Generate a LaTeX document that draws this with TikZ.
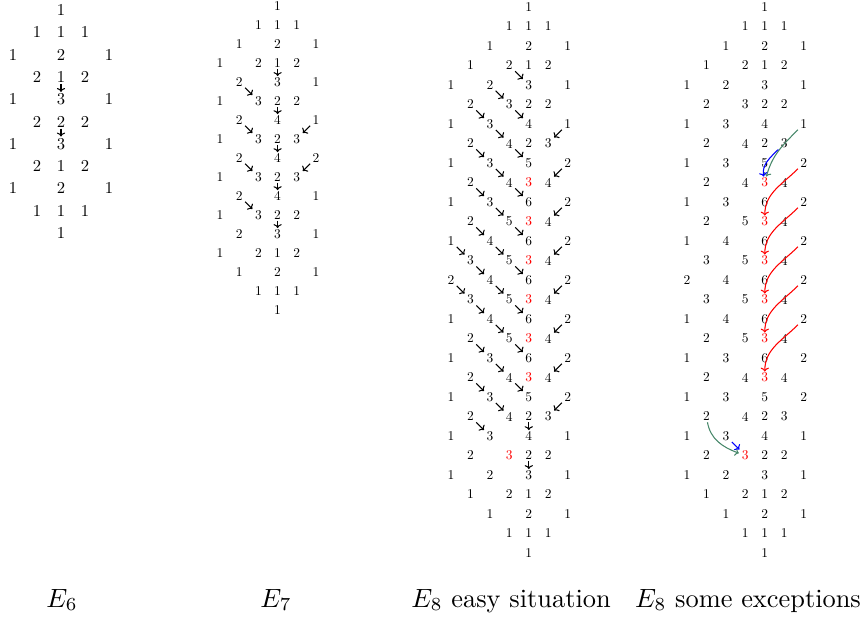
\documentclass[tikz,border=0pt]{standalone}
\usepackage{fontspec}
\usepackage{tikz}
\usetikzlibrary{arrows.meta}
\newfontfamily\digitfont{lmroman10-regular.otf}
\definecolor{exgreen}{RGB}{70,135,105}

\begin{document}
\begin{tikzpicture}[x=0.013326cm, y=-0.013326cm,
  num/.style={inner xsep=1pt, inner ysep=0.3pt, font=\digitfont\fontsize{5.1}{6}\selectfont},
  bignum/.style={inner xsep=1.2pt, inner ysep=0.4pt, font=\digitfont\fontsize{6.3}{7}\selectfont},
  hot/.style={text=red},
  lbl/.style={anchor=base, font=\normalsize},
  arr/.style={-{To[scale=0.6]}, line width=0.4pt}
]
\useasboundingbox (0,0) rectangle (863,621);

% E6
\foreach \r/\row in {0/{2/1}, 1/{1/1,2/1,3/1}, 2/{0/1,2/2,4/1}, 3/{1/2,2/1,3/2},
    4/{0/1,2/3,4/1}, 5/{1/2,2/2,3/2}, 6/{0/1,2/3,4/1}, 7/{1/2,2/1,3/2},
    8/{0/1,2/2,4/1}, 9/{1/1,2/1,3/1}, 10/{2/1}}
  \foreach \c/\v in \row
    \node[bignum] (e6-\r-\c) at (13+24*\c, 10+22.3*\r) {\v};
\draw[arr] (e6-3-2) -- (e6-4-2);
\draw[arr] (e6-5-2) -- (e6-6-2);

% E7
\foreach \r/\row in {0/{3/1}, 1/{2/1,3/1,4/1}, 2/{1/1,3/2,5/1}, 3/{0/1,2/2,3/1,4/2},
    4/{1/2,3/3,5/1}, 5/{0/1,2/3,3/2,4/2}, 6/{1/2,3/4,5/1}, 7/{0/1,2/3,3/2,4/3},
    8/{1/2,3/4,5/2}, 9/{0/1,2/3,3/2,4/3}, 10/{1/2,3/4,5/1}, 11/{0/1,2/3,3/2,4/2},
    12/{1/2,3/3,5/1}, 13/{0/1,2/2,3/1,4/2}, 14/{1/1,3/2,5/1}, 15/{2/1,3/1,4/1}, 16/{3/1}}
  \foreach \c/\v in \row
    \node[num] (e7-\r-\c) at (220+19.2*\c, 6+19*\r) {\v};
\foreach \r in {3,5,...,11} {
  \pgfmathtruncatemacro{\nr}{\r+1}
  \draw[arr] (e7-\r-3) -- (e7-\nr-3);
}
\foreach \r in {4,6,8,10} {
  \pgfmathtruncatemacro{\nr}{\r+1}
  \draw[arr] (e7-\r-1) -- (e7-\nr-2);
}
\draw[arr] (e7-6-5) -- (e7-7-4);
\draw[arr] (e7-8-5) -- (e7-9-4);

% E8, both copies
\foreach \r/\row in {0/{4/1}, 1/{3/1,4/1,5/1}, 2/{2/1,4/2,6/1}, 3/{1/1,3/2,4/1,5/2},
    4/{0/1,2/2,4/3,6/1}, 5/{1/2,3/3,4/2,5/2}, 6/{0/1,2/3,4/4,6/1}, 7/{1/2,3/4,4/2,5/3},
    8/{0/1,2/3,4/5,6/2}, 9/{1/2,3/4,5/4}, 10/{0/1,2/3,4/6,6/2}, 11/{1/2,3/5,5/4},
    12/{0/1,2/4,4/6,6/2}, 13/{1/3,3/5,5/4}, 14/{0/2,2/4,4/6,6/2}, 15/{1/3,3/5,5/4},
    16/{0/1,2/4,4/6,6/2}, 17/{1/2,3/5,5/4}, 18/{0/1,2/3,4/6,6/2}, 19/{1/2,3/4,5/4},
    20/{0/1,2/3,4/5,6/2}, 21/{1/2,3/4,4/2,5/3}, 22/{0/1,2/3,4/4,6/1}, 23/{1/2,4/2,5/2},
    24/{0/1,2/2,4/3,6/1}, 25/{1/1,3/2,4/1,5/2}, 26/{2/1,4/2,6/1}, 27/{3/1,4/1,5/1}, 28/{4/1}}
  \foreach \c/\v in \row
    \foreach \d/\xo in {e8a/451, e8b/687}
      \node[num] (\d-\r-\c) at (\xo+19.45*\c, 7+19.5*\r) {\v};
\foreach \d/\xo in {e8a/451, e8b/687} {
  \foreach \r in {9,11,...,19}
    \node[num, hot] (\d-\r-4) at (\xo+19.45*4, 7+19.5*\r) {3};
  \node[num, hot] (\d-23-3) at (\xo+19.45*3, 7+19.5*23) {3};
}

% easy situation
\foreach \r/\c in {3/3, 4/2, 5/1, 5/3, 6/2, 7/1, 7/3, 8/2, 9/1, 9/3, 10/2, 11/1, 11/3,
    12/0, 12/2, 13/1, 13/3, 14/0, 14/2, 15/1, 15/3, 16/2, 17/1, 17/3, 18/2, 19/1, 19/3,
    20/2, 21/1} {
  \pgfmathtruncatemacro{\nr}{\r+1}
  \pgfmathtruncatemacro{\nc}{\c+1}
  \draw[arr] (e8a-\r-\c) -- (e8a-\nr-\nc);
}
\foreach \r in {6,8,...,20} {
  \pgfmathtruncatemacro{\nr}{\r+1}
  \draw[arr] (e8a-\r-6) -- (e8a-\nr-5);
}
\draw[arr] (e8a-21-4) -- (e8a-22-4);
\draw[arr] (e8a-23-4) -- (e8a-24-4);

% some exceptions
\draw[arr, exgreen] (e8b-6-6) to[out=-135, in=75] (e8b-9-4);
\draw[arr, blue] (e8b-7-5) to[out=-135, in=100] (e8b-9-4);
\foreach \r in {8,10,...,16} {
  \pgfmathtruncatemacro{\nr}{\r+3}
  \draw[arr, red] (e8b-\r-6) to[out=-135, in=90] (e8b-\nr-4);
}
\draw[arr, exgreen] (e8b-21-1) to[out=-80, in=160] (e8b-23-3);
\draw[arr, blue] (e8b-22-2) -- (e8b-23-3);

% captions
\node[lbl] (cap6) at (62,607) {$E_6$};
\node[lbl] (cap7) at (276,607) {$E_7$};
\node[lbl] (cap8a) at (511,607) {$E_8$ easy situation};
\node[lbl] (cap8b) at (748,607) {$E_8$ some exceptions};
\end{tikzpicture}
\end{document}
